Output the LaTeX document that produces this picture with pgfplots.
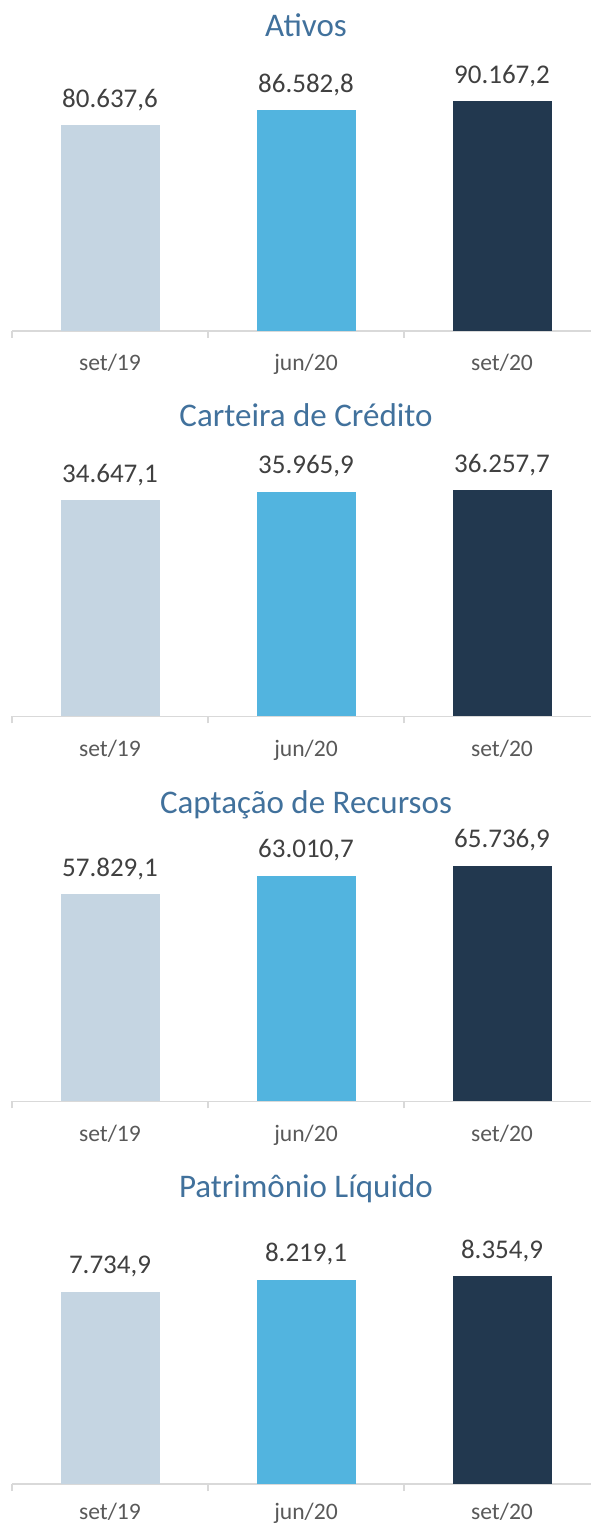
\documentclass[border=0pt]{standalone}
\usepackage{fontspec}
\setmainfont{Carlito}
\usepackage{pgfplots}
\pgfplotsset{compat=1.18}
\definecolor{cA}{HTML}{C5D5E2}
\definecolor{cB}{HTML}{52B4DF}
\definecolor{cC}{HTML}{22384F}
\definecolor{titleblue}{HTML}{41719C}
\definecolor{valgray}{HTML}{404040}
\definecolor{tickgray}{HTML}{595959}
\definecolor{axisgray}{HTML}{D9D9D9}
\pgfplotsset{
  panel/.style={
    scale only axis, width=289.5pt, anchor=south west,
    xmin=-0.5, xmax=2.454, ymin=0,
    axis x line*=bottom, axis y line=none,
    x axis line style={draw=axisgray, line width=0.75pt},
    xtick={0,1,2}, xticklabels={set/19, jun/20, set/20},
    minor xtick={-0.5,0.5,1.5},
    xtick pos=bottom, xtick align=outside,
    major tick length=0pt, minor tick length=3.5pt,
    major tick style={draw=none},
    minor tick style={draw=axisgray, line width=0.75pt},
    xticklabel style={font=\fontsize{11.8}{14}\selectfont, text=tickgray, anchor=base, yshift=-20pt},
    point meta=explicit symbolic,
    nodes near coords,
    every node near coord/.append style={font=\fontsize{13.5}{16}\selectfont, text=valgray, anchor=base, yshift=9pt},
    clip=false,
  },
  mybar/.style={ybar, bar width=49.5pt, draw=none},
}
\tikzset{ptitle/.style={anchor=base, font=\fontsize{16.5}{20}\selectfont, text=titleblue}}
\begin{document}
\begin{tikzpicture}
\useasboundingbox (0,0) rectangle (295.5pt,763pt);
% Ativos
\begin{axis}[panel, at={(6pt,597.5pt)}, height=127.45pt, ymax=100000]
\addplot[mybar, fill=cA] coordinates {(0,80637.6) [80.637,6]};
\addplot[mybar, fill=cB] coordinates {(1,86582.8) [86.582,8]};
\addplot[mybar, fill=cC] coordinates {(2,90167.2) [90.167,2]};
\end{axis}
\node[ptitle] at (153pt,744.75pt) {Ativos};
% Carteira de Credito
\begin{axis}[panel, at={(6pt,404.75pt)}, height=124.9pt, ymax=40000]
\addplot[mybar, fill=cA] coordinates {(0,34647.1) [34.647,1]};
\addplot[mybar, fill=cB] coordinates {(1,35965.9) [35.965,9]};
\addplot[mybar, fill=cC] coordinates {(2,36257.7) [36.257,7]};
\end{axis}
\node[ptitle] at (153pt,549.75pt) {Carteira de Crédito};
% Captacao de Recursos
\begin{axis}[panel, at={(6pt,212.25pt)}, height=125.4pt, ymax=70000]
\addplot[mybar, fill=cA] coordinates {(0,57829.1) [57.829,1]};
\addplot[mybar, fill=cB] coordinates {(1,63010.7) [63.010,7]};
\addplot[mybar, fill=cC] coordinates {(2,65736.9) [65.736,9]};
\end{axis}
\node[ptitle] at (153pt,356.25pt) {Captação de Recursos};
% Patrimonio Liquido
\begin{axis}[panel, at={(6pt,21pt)}, height=124.2pt, ymax=10000,
  xticklabel style={yshift=2.4pt}]
\addplot[mybar, fill=cA] coordinates {(0,7734.9) [7.734,9]};
\addplot[mybar, fill=cB] coordinates {(1,8219.1) [8.219,1]};
\addplot[mybar, fill=cC] coordinates {(2,8354.9) [8.354,9]};
\end{axis}
\node[ptitle] at (153pt,164.25pt) {Patrimônio Líquido};
\end{tikzpicture}
\end{document}
